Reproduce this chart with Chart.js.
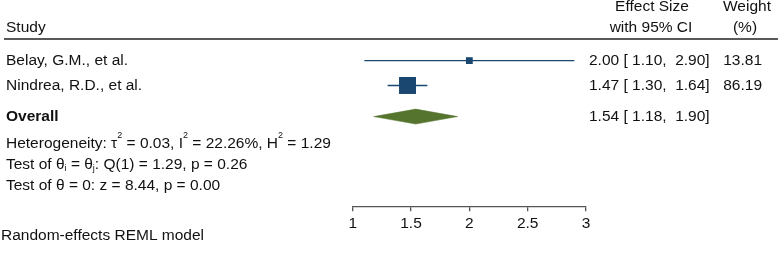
<!DOCTYPE html>
<html>
<head>
<meta charset="utf-8">
<script src="https://cdn.jsdelivr.net/npm/chart.js@4.4.1/dist/chart.umd.min.js"></script>
<style>
  html, body { margin: 0; padding: 0; background: #fff; }
</style>
</head>
<body>
<canvas id="forest" width="778" height="254"></canvas>
<script>
// study rows
const studies = ["Belay, G.M., et al.", "Nindrea, R.D., et al."];
const effectSize = [2.00, 1.47];
const ciLow = [1.10, 1.30];
const ciHigh = [2.90, 1.64];
const weights = [13.81, 86.19];
const studyRows = [1, 2];

// pooled estimate
const overallEffect = 1.54;
const overallLow = 1.18;
const overallHigh = 1.90;
const overallRow = 3.25;

// axis
const xTicks = [1, 1.5, 2, 2.5, 3];

// test statistics shown under the plot
const hetStats = [0.03, 22.26, 1.29];   // tau2, I2, H2
const qTest = [1, 1.29, 0.26];          // df, Q, p
const zTest = [8.44, 0.00];             // z, p
const statRows = [4.33, 5.18, 6.03];

const NAVY = "#1a476f";
const GREEN = "#55752f";
const INK = "#111";
const FONT = "'Liberation Sans', Arial, Helvetica, sans-serif";
const FS = 15.5;

const datasets = [];

studies.forEach((s, i) => {
    datasets.push({
        data: [{ x: ciLow[i], y: studyRows[i] }, { x: ciHigh[i], y: studyRows[i] }],
        borderColor: NAVY,
        borderWidth: 1.3,
        pointRadius: 0,
        showLine: true,
        fill: false,
        clip: false
    });
});

// square size follows the study weight
datasets.push({
    data: effectSize.map((v, i) => ({ x: v, y: studyRows[i] })),
    showLine: false,
    pointStyle: "rect",
    pointRadius: weights.map(w => 1.83 * Math.sqrt(w) / Math.SQRT2),
    pointBackgroundColor: NAVY,
    pointBorderColor: NAVY,
    pointBorderWidth: 0,
    clip: false
});

const halfH = 0.3;
datasets.push({
    data: [
        { x: overallLow, y: overallRow },
        { x: overallEffect, y: overallRow - halfH },
        { x: overallHigh, y: overallRow },
        { x: overallEffect, y: overallRow + halfH },
        { x: overallLow, y: overallRow }
    ],
    borderColor: GREEN,
    borderWidth: 0.5,
    backgroundColor: GREEN,
    fill: "shape",
    pointRadius: 0,
    tension: 0,
    clip: false
});

function ciText(es, lo, hi) {
    return `${es.toFixed(2)} [ ${lo.toFixed(2)},  ${hi.toFixed(2)}]`;
}

function drawRich(ctx, x, y, parts) {
    parts.forEach(p => {
        const kind = p[1] || "n";
        let dy = 0;
        if (kind === "sup") { ctx.font = `9px ${FONT}`; dy = -8; }
        else if (kind === "sub") { ctx.font = `9px ${FONT}`; dy = 4; }
        else ctx.font = `${FS}px ${FONT}`;
        ctx.fillText(p[0], x, y + dy);
        x += ctx.measureText(p[0]).width;
    });
}

const textPlugin = {
    id: "forestText",
    afterDraw(chart) {
        const ctx = chart.ctx;
        const ys = chart.scales.y;
        ctx.save();
        ctx.fillStyle = INK;
        ctx.textBaseline = "middle";
        ctx.font = `${FS}px ${FONT}`;

        // header
        ctx.textAlign = "left";
        ctx.fillText("Study", 6, 28);
        ctx.textAlign = "center";
        ctx.fillText("Effect Size", 652, 7);
        ctx.fillText("with 95% CI", 651, 28);
        ctx.fillText("Weight", 747, 7);
        ctx.fillText("(%)", 745, 28);

        ctx.strokeStyle = "#222";
        ctx.lineWidth = 1.5;
        ctx.beginPath();
        ctx.moveTo(4, 39);
        ctx.lineTo(778, 39);
        ctx.stroke();

        // study rows
        studies.forEach((s, i) => {
            const yy = ys.getPixelForValue(studyRows[i]);
            ctx.textAlign = "left";
            ctx.fillText(s, 6, yy);
            ctx.fillText(ciText(effectSize[i], ciLow[i], ciHigh[i]), 589, yy);
            ctx.textAlign = "right";
            ctx.fillText(weights[i].toFixed(2), 762, yy);
        });

        const oy = ys.getPixelForValue(overallRow);
        ctx.textAlign = "left";
        ctx.font = `bold ${FS}px ${FONT}`;
        ctx.fillText("Overall", 6, oy);
        ctx.font = `${FS}px ${FONT}`;
        ctx.fillText(ciText(overallEffect, overallLow, overallHigh), 589, oy);

        // statistics
        drawRich(ctx, 6, ys.getPixelForValue(statRows[0]), [
            ["Heterogeneity: \u03c4"], ["2", "sup"],
            [` = ${hetStats[0].toFixed(2)}, I`], ["2", "sup"],
            [` = ${hetStats[1].toFixed(2)}%, H`], ["2", "sup"],
            [` = ${hetStats[2].toFixed(2)}`]
        ]);
        drawRich(ctx, 6, ys.getPixelForValue(statRows[1]), [
            ["Test of \u03b8"], ["i", "sub"], [" = \u03b8"], ["j", "sub"],
            [`: Q(${qTest[0]}) = ${qTest[1].toFixed(2)}, p = ${qTest[2].toFixed(2)}`]
        ]);
        drawRich(ctx, 6, ys.getPixelForValue(statRows[2]), [
            [`Test of \u03b8 = 0: z = ${zTest[0].toFixed(2)}, p = ${zTest[1].toFixed(2)}`]
        ]);

        ctx.font = `${FS}px ${FONT}`;
        ctx.fillText("Random-effects REML model", 1, 235.5);
        ctx.restore();
    }
};

new Chart(document.getElementById("forest"), {
    type: "line",
    data: { datasets },
    plugins: [textPlugin],
    options: {
        responsive: false,
        animation: false,
        events: [],
        layout: { autoPadding: false, padding: { left: 352.7, right: 192, top: 0, bottom: 0 } },
        plugins: { legend: { display: false }, tooltip: { enabled: false } },
        scales: {
            x: {
                type: "linear",
                min: 1,
                max: 3,
                afterBuildTicks: s => { s.ticks = xTicks.map(v => ({ value: v })); },
                afterFit: s => { s.height = 47.3; },
                ticks: {
                    font: { family: FONT, size: FS },
                    color: INK,
                    padding: 3,
                    maxRotation: 0,
                    autoSkip: false,
                    callback: v => String(v)
                },
                grid: { drawOnChartArea: false, tickLength: 4.5, color: "#555", lineWidth: 1.3 },
                border: { display: true, color: "#555", width: 1.3 }
            },
            y: {
                type: "linear",
                reverse: true,
                min: -1.434,
                max: 6.87,
                display: false
            }
        }
    }
});
</script>
</body>
</html>
